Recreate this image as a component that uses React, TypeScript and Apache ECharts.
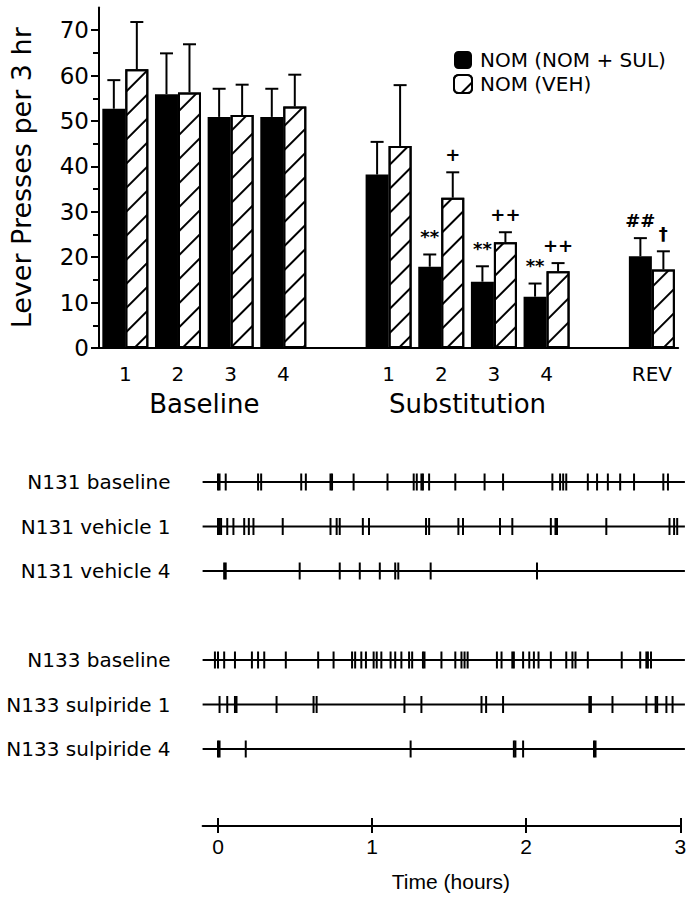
import React, { useEffect, useRef } from "react";
import * as echarts from "echarts";

// ---------- Bar chart data ----------
const CATEGORIES = ["1", "2", "3", "4", "", "1", "2", "3", "4", "", "REV"];
const GROUP_AXIS_LABELS = ["", "", "Baseline", "", "", "", "", "Substitution", "", "", "", ""];
const NOM_SUL_NAME = "NOM (NOM + SUL)";
const VEH_NAME = "NOM (VEH)";
const NOM_SUL_MEAN = [52.7, 55.9, 50.9, 50.9, null, 38.2, 17.9, 14.6, 11.3, null, 20.2];
const NOM_SUL_SEM = [6.3, 9.0, 6.2, 6.2, null, 7.2, 2.7, 3.4, 2.9, null, 4.0];
const NOM_SUL_MARKS = ["", "", "", "", "", "", "**", "**", "**", "", "##"];
const VEH_MEAN = [61.4, 56.3, 51.3, 53.2, null, 44.5, 33.1, 23.3, 16.9, null, 17.3];
const VEH_SEM = [10.4, 10.6, 6.7, 7.0, null, 13.4, 5.6, 2.2, 1.8, null, 4.0];
const VEH_MARKS = ["", "", "", "", "", "", "+", "++", "++", "", "†"];
const Y_TICKS = [0, 10, 20, 30, 40, 50, 60, 70];
const Y_MINOR_TICKS = [5, 15, 25, 35, 45, 55, 65];

// ---------- Raster data (event times in hours) ----------
const ROW_LABELS = [
  "N131 baseline",
  "N131 vehicle 1",
  "N131 vehicle 4",
  "",
  "N133 baseline",
  "N133 sulpiride 1",
  "N133 sulpiride 4",
];
const N131_BASELINE = [0.0, 0.01, 0.05, 0.26, 0.28, 0.54, 0.57, 0.73, 0.74, 0.88, 1.1, 1.27, 1.29, 1.32, 1.33, 1.37, 1.54, 1.73, 1.85, 2.17, 2.22, 2.24, 2.26, 2.4, 2.46, 2.53, 2.61, 2.7, 2.89, 2.92];
const N131_VEHICLE_1 = [0.0, 0.01, 0.02, 0.06, 0.1, 0.17, 0.2, 0.23, 0.42, 0.73, 0.77, 0.79, 0.94, 0.98, 1.35, 1.37, 1.56, 1.59, 1.83, 1.91, 2.16, 2.19, 2.2, 2.52, 2.93, 2.96, 2.98];
const N131_VEHICLE_4 = [0.04, 0.05, 0.53, 0.79, 0.92, 1.05, 1.15, 1.17, 1.38, 2.07];
const N133_BASELINE = [-0.02, 0.0, 0.04, 0.11, 0.22, 0.26, 0.3, 0.44, 0.65, 0.75, 0.87, 0.89, 0.93, 0.96, 1.01, 1.03, 1.06, 1.12, 1.15, 1.19, 1.24, 1.26, 1.33, 1.34, 1.45, 1.54, 1.58, 1.6, 1.62, 1.81, 1.84, 1.91, 1.92, 1.98, 2.02, 2.05, 2.08, 2.16, 2.26, 2.3, 2.32, 2.4, 2.62, 2.74, 2.78, 2.79, 2.81];
const N133_SULPIRIDE_1 = [0.01, 0.06, 0.11, 0.12, 0.38, 0.62, 0.64, 1.21, 1.32, 1.71, 1.74, 1.85, 2.41, 2.42, 2.56, 2.78, 2.84, 2.85, 2.91, 2.95];
const N133_SULPIRIDE_4 = [0.0, 0.01, 0.18, 1.25, 1.92, 1.93, 1.98, 2.44, 2.45];
const ROW_EVENTS: (number[] | null)[] = [
  N131_BASELINE,
  N131_VEHICLE_1,
  N131_VEHICLE_4,
  null,
  N133_BASELINE,
  N133_SULPIRIDE_1,
  N133_SULPIRIDE_4,
];
const TIME_TICKS = [0, 1, 2, 3];

// ---------- styles ----------
const SANS = "DejaVu Sans";
const HELV = "Liberation Sans";
const BAR_WIDTH = 23;

export default function App() {
  const ref = useRef<HTMLDivElement>(null);

  useEffect(() => {
    document.body.style.margin = "0";
    const chart = echarts.init(ref.current!, null, { renderer: "svg" });

    const errData = (mean: (number | null)[], sem: (number | null)[]) =>
      mean
        .map((m, i) => (m == null ? null : [i, m, m + (sem[i] as number)]))
        .filter((d) => d != null);

    const errRender = (side: number, marks: string[]) => (params: any, api: any) => {
      const i = api.value(0);
      const base = api.coord([i, api.value(1)]);
      const top = api.coord([i, api.value(2)]);
      const x = base[0] + (side * BAR_WIDTH) / 2;
      const stroke = { stroke: "#000", lineWidth: 2 };
      return {
        type: "group",
        children: [
          { type: "line", shape: { x1: x, y1: base[1], x2: x, y2: top[1] }, style: stroke },
          { type: "line", shape: { x1: x - 6.5, y1: top[1], x2: x + 6.5, y2: top[1] }, style: stroke },
          {
            type: "text",
            style: {
              text: marks[i],
              x,
              y: top[1] - 9,
              align: "center",
              verticalAlign: "bottom",
              fontSize: 18,
              fontWeight: "bold",
              fontFamily: SANS,
              fill: "#000",
            },
          },
        ],
      };
    };

    const eventData: number[][] = [];
    ROW_EVENTS.forEach((ev, r) => {
      if (ev) ev.forEach((t) => eventData.push([t, r]));
    });
    const rowData = ROW_EVENTS.map((ev, r) => (ev ? [0, r] : null)).filter((d) => d != null);

    const option: any = {
      animation: false,
      backgroundColor: "#fff",
      textStyle: { fontFamily: SANS, color: "#000" },
      grid: [
        { left: 95.2, right: 13.8, top: 7.5, height: 340.5 },
        { left: 202.6, right: 7.1, top: 459.75, height: 311.5 },
        { left: 202.6, right: 11.7, top: 800, height: 26 },
      ],
      legend: {
        data: [NOM_SUL_NAME, VEH_NAME],
        orient: "vertical",
        left: 448,
        top: 45,
        itemWidth: 18,
        itemHeight: 18,
        itemGap: 4,
        selectedMode: false,
        textStyle: { fontSize: 20, fontFamily: SANS, color: "#000", padding: [0, 0, 0, 3] },
      },
      xAxis: [
        {
          gridIndex: 0,
          type: "category",
          position: "bottom",
          data: CATEGORIES,
          axisLine: { lineStyle: { color: "#000", width: 2 } },
          axisTick: { alignWithLabel: true, length: 7, lineStyle: { color: "#000", width: 2 } },
          axisLabel: { interval: 0, fontSize: 20, color: "#000", fontFamily: SANS, margin: 16 },
        },
        {
          gridIndex: 0,
          type: "category",
          position: "bottom",
          boundaryGap: false,
          data: GROUP_AXIS_LABELS,
          axisLine: { show: false },
          axisTick: { show: false },
          axisLabel: { interval: 0, fontSize: 26, color: "#000", fontFamily: SANS, margin: 43 },
        },
        {
          gridIndex: 1,
          type: "value",
          min: -0.1,
          max: 3.03,
          show: false,
        },
        {
          gridIndex: 2,
          type: "value",
          position: "bottom",
          min: -0.1,
          max: 3,
          splitLine: { show: false },
          axisLine: { lineStyle: { color: "#000", width: 2 } },
          axisTick: { customValues: TIME_TICKS, length: 7, lineStyle: { color: "#000", width: 2 } },
          axisLabel: { customValues: TIME_TICKS, fontSize: 21, color: "#000", fontFamily: HELV, margin: 10 },
          name: "Time (hours)",
          nameLocation: "middle",
          nameGap: 45,
          nameTextStyle: { fontSize: 21, fontFamily: HELV, color: "#000", padding: [0, 0, 0, 19] },
        },
        {
          gridIndex: 2,
          type: "value",
          position: "bottom",
          min: -0.1,
          max: 3,
          splitLine: { show: false },
          axisLine: { show: false },
          axisTick: { customValues: TIME_TICKS, inside: true, length: 8, lineStyle: { color: "#000", width: 2 } },
          axisLabel: { show: false },
        },
      ],
      yAxis: [
        {
          gridIndex: 0,
          type: "value",
          position: "left",
          min: 0,
          max: 75,
          splitLine: { show: false },
          axisLine: { show: true, lineStyle: { color: "#000", width: 2 } },
          axisTick: { show: true, customValues: Y_TICKS, length: 8, lineStyle: { color: "#000", width: 2 } },
          axisLabel: { customValues: Y_TICKS, fontSize: 23, color: "#000", fontFamily: SANS, margin: 10 },
          name: "Lever Presses per 3 hr",
          nameLocation: "middle",
          nameGap: 64,
          nameTextStyle: { fontSize: 27, fontFamily: SANS, color: "#000" },
        },
        {
          gridIndex: 0,
          type: "value",
          position: "left",
          min: 0,
          max: 75,
          splitLine: { show: false },
          axisLine: { show: false },
          axisTick: { show: true, customValues: Y_MINOR_TICKS, length: 6, lineStyle: { color: "#000", width: 2 } },
          axisLabel: { show: false },
        },
        {
          gridIndex: 1,
          type: "category",
          inverse: true,
          data: ROW_LABELS,
          axisLine: { show: false },
          axisTick: { show: false },
          splitLine: { show: false },
          axisLabel: { fontSize: 20, fontFamily: SANS, color: "#000", align: "right", margin: 32 },
        },
        { gridIndex: 2, type: "value", show: false },
      ],
      series: [
        {
          name: NOM_SUL_NAME,
          type: "bar",
          xAxisIndex: 0,
          yAxisIndex: 0,
          data: NOM_SUL_MEAN,
          barWidth: BAR_WIDTH,
          barGap: "0%",
          itemStyle: { color: "#000" },
        },
        {
          name: VEH_NAME,
          type: "bar",
          xAxisIndex: 0,
          yAxisIndex: 0,
          data: VEH_MEAN,
          barWidth: BAR_WIDTH,
          barGap: "0%",
          itemStyle: {
            color: "#fff",
            borderColor: "#000",
            borderWidth: 2,
            decal: {
              symbol: "rect",
              symbolSize: 1,
              color: "#000",
              dashArrayX: [1, 0],
              dashArrayY: [2, 15],
              rotation: -Math.PI / 4,
            },
          },
        },
        {
          type: "custom",
          xAxisIndex: 0,
          yAxisIndex: 0,
          data: errData(NOM_SUL_MEAN, NOM_SUL_SEM),
          renderItem: errRender(-1, NOM_SUL_MARKS),
          clip: false,
          z: 5,
        },
        {
          type: "custom",
          xAxisIndex: 0,
          yAxisIndex: 0,
          data: errData(VEH_MEAN, VEH_SEM),
          renderItem: errRender(1, VEH_MARKS),
          clip: false,
          z: 5,
        },
        {
          type: "custom",
          xAxisIndex: 2,
          yAxisIndex: 2,
          data: rowData,
          clip: false,
          renderItem: (params: any, api: any) => {
            const cs = params.coordSys;
            const y = api.coord([0, api.value(1)])[1];
            return {
              type: "line",
              shape: { x1: cs.x, y1: y, x2: cs.x + cs.width, y2: y },
              style: { stroke: "#000", lineWidth: 2 },
            };
          },
        },
        {
          type: "custom",
          xAxisIndex: 2,
          yAxisIndex: 2,
          data: eventData,
          clip: false,
          renderItem: (params: any, api: any) => {
            const p = api.coord([api.value(0), api.value(1)]);
            return {
              type: "line",
              shape: { x1: p[0], y1: p[1] - 8.5, x2: p[0], y2: p[1] + 8.5 },
              style: { stroke: "#000", lineWidth: 2 },
            };
          },
        },
      ],
    };

    chart.setOption(option);
    return () => chart.dispose();
  }, []);

  return (
    <div
      ref={ref}
      style={{ position: "absolute", left: 0, top: 0, width: 692, height: 900, background: "#fff" }}
    />
  );
}
